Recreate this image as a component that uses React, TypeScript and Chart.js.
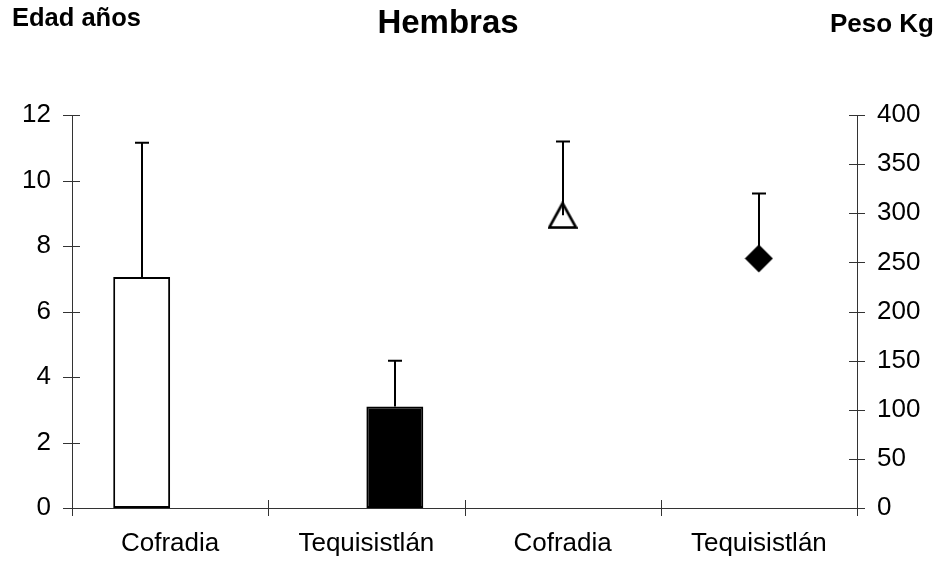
import React, { useEffect, useRef } from "react";
import { Chart, registerables } from "chart.js";

Chart.register(...registerables);

// Categories along the bottom axis
const categories = ["Cofradia", "Tequisistlán", "Cofradia", "Tequisistlán"];

// Age (years, left axis): mean and upper error
const edadCofradia = [7.05, null, null, null];
const edadTequisistlan = [null, 3.1, null, null];
const edadCofradiaError = [11.15, null, null, null];
const edadTequisistlanError = [null, 4.5, null, null];

// Weight (kg, right axis): mean and upper error
const pesoCofradia = [null, null, 298, null];
const pesoTequisistlan = [null, null, null, 254];
const pesoCofradiaError = [null, null, 373, null];
const pesoTequisistlanError = [null, null, null, 320];

// Axis tick settings
const edadTicks = { min: 0, max: 12, step: 2 };
const pesoTicks = { min: 0, max: 400, step: 50 };

const FONT = "'Liberation Sans', Arial, Helvetica, sans-serif";

function makeTriangle(): HTMLCanvasElement {
  const c = document.createElement("canvas");
  c.width = 30;
  c.height = 28;
  const ctx = c.getContext("2d")!;
  ctx.fillStyle = "#ffffff";
  ctx.strokeStyle = "#000000";
  ctx.lineWidth = 2.6;
  ctx.lineJoin = "miter";
  ctx.beginPath();
  ctx.moveTo(15, 2);
  ctx.lineTo(1.6, 26.4);
  ctx.lineTo(28.4, 26.4);
  ctx.closePath();
  ctx.fill();
  ctx.stroke();
  return c;
}

function makeDiamond(): HTMLCanvasElement {
  const c = document.createElement("canvas");
  c.width = 29;
  c.height = 29;
  const ctx = c.getContext("2d")!;
  ctx.fillStyle = "#000000";
  ctx.beginPath();
  ctx.moveTo(14.5, 0.5);
  ctx.lineTo(28.5, 14.5);
  ctx.lineTo(14.5, 28.5);
  ctx.lineTo(0.5, 14.5);
  ctx.closePath();
  ctx.fill();
  return c;
}

// Upper error bars with a short cap, drawn from each mark up to its error value
const errorBars = {
  id: "errorBars",
  afterDatasetsDraw(chart: any) {
    const ctx = chart.ctx;
    ctx.save();
    ctx.strokeStyle = "#000000";
    ctx.lineWidth = 2;
    chart.data.datasets.forEach((ds: any, i: number) => {
      if (!ds.errorTo) return;
      const meta = chart.getDatasetMeta(i);
      const scale = chart.scales[ds.yAxisID];
      meta.data.forEach((el: any, j: number) => {
        const top = ds.errorTo[j];
        if (top == null || ds.data[j] == null) return;
        const x = Math.round(el.x);
        const y0 = el.y;
        const y1 = scale.getPixelForValue(top);
        ctx.beginPath();
        ctx.moveTo(x, y0);
        ctx.lineTo(x, y1);
        ctx.moveTo(x - 7, y1);
        ctx.lineTo(x + 7, y1);
        ctx.stroke();
      });
    });
    ctx.restore();
  },
};

// Tick marks that cross each axis line
const crossTicks = {
  id: "crossTicks",
  afterDraw(chart: any) {
    const ctx = chart.ctx;
    const { left, right, bottom } = chart.chartArea;
    const half = 8;
    ctx.save();
    ctx.strokeStyle = "#333333";
    ctx.lineWidth = 1;
    ctx.beginPath();
    const y = chart.scales.y;
    y.ticks.forEach((t: any) => {
      const py = Math.round(y.getPixelForValue(t.value)) + 0.5;
      ctx.moveTo(left - half - 1, py);
      ctx.lineTo(left + half, py);
    });
    const y2 = chart.scales.y2;
    y2.ticks.forEach((t: any) => {
      const py = Math.round(y2.getPixelForValue(t.value)) + 0.5;
      ctx.moveTo(right - half, py);
      ctx.lineTo(right + half, py);
    });
    const x = chart.scales.x;
    const n = categories.length;
    const w = (x.right - x.left) / n;
    for (let i = 0; i <= n; i++) {
      const px = Math.round(x.left + i * w) + 0.5;
      ctx.moveTo(px, bottom - half);
      ctx.lineTo(px, bottom + half);
    }
    ctx.stroke();
    ctx.restore();
  },
};

export default function App() {
  const ref = useRef<HTMLCanvasElement | null>(null);

  useEffect(() => {
    if (!ref.current) return;
    const tickFont = { family: FONT, size: 26 };
    const chart = new Chart(ref.current, {
      type: "bar",
      data: {
        labels: categories,
        datasets: [
          {
            type: "bar",
            label: "Edad Cofradia",
            data: edadCofradia,
            yAxisID: "y",
            backgroundColor: "#ffffff",
            borderColor: "#000000",
            borderWidth: 2,
            borderSkipped: false,
            errorTo: edadCofradiaError,
          } as any,
          {
            type: "bar",
            label: "Edad Tequisistlán",
            data: edadTequisistlan,
            yAxisID: "y",
            backgroundColor: "#000000",
            borderColor: "#000000",
            borderWidth: 2,
            borderSkipped: false,
            errorTo: edadTequisistlanError,
          } as any,
          {
            type: "line",
            label: "Peso Cofradia",
            data: pesoCofradia,
            yAxisID: "y2",
            showLine: false,
            pointStyle: makeTriangle(),
            pointRadius: 10,
            errorTo: pesoCofradiaError,
          } as any,
          {
            type: "line",
            label: "Peso Tequisistlán",
            data: pesoTequisistlan,
            yAxisID: "y2",
            showLine: false,
            pointStyle: makeDiamond(),
            pointRadius: 10,
            errorTo: pesoTequisistlanError,
          } as any,
        ],
      },
      options: {
        responsive: false,
        animation: false,
        events: [],
        layout: { padding: { top: 115, left: 0, right: 0, bottom: 0 } },
        datasets: {
          bar: { categoryPercentage: 0.58, barPercentage: 1.0 },
        },
        plugins: {
          legend: { display: false },
          title: { display: false },
          tooltip: { enabled: false },
        },
        scales: {
          x: {
            type: "category",
            offset: true,
            grid: { display: false, drawTicks: false, tickLength: 0 },
            border: { display: true, color: "#333333", width: 1 },
            ticks: { color: "#000000", font: tickFont, padding: 20, maxRotation: 0, autoSkip: false },
            afterFit: (s: any) => {
              s.height = 55;
            },
          },
          y: {
            type: "linear",
            position: "left",
            min: edadTicks.min,
            max: edadTicks.max,
            grid: { display: false, drawTicks: false, tickLength: 0 },
            border: { display: true, color: "#333333", width: 1 },
            ticks: { stepSize: edadTicks.step, color: "#000000", font: tickFont, padding: 21 },
            afterFit: (s: any) => {
              s.width = 72;
            },
          },
          y2: {
            type: "linear",
            position: "right",
            min: pesoTicks.min,
            max: pesoTicks.max,
            grid: { display: false, drawTicks: false, tickLength: 0 },
            border: { display: true, color: "#333333", width: 1 },
            ticks: { stepSize: pesoTicks.step, color: "#000000", font: tickFont, padding: 20 },
            afterFit: (s: any) => {
              s.width = 83;
            },
          },
        },
      } as any,
      plugins: [errorBars, crossTicks],
    });
    return () => chart.destroy();
  }, []);

  const head: React.CSSProperties = {
    position: "absolute",
    fontFamily: FONT,
    fontWeight: "bold",
    lineHeight: "1",
    whiteSpace: "nowrap",
    color: "#000000",
  };

  return (
    <div
      style={{
        position: "fixed",
        left: 0,
        top: 0,
        width: 940,
        height: 563,
        background: "#ffffff",
        overflow: "hidden",
      }}
    >
      <canvas ref={ref} width={940} height={563} style={{ position: "absolute", left: 0, top: 0 }} />
      <div style={{ ...head, left: 12, top: 5, fontSize: 25.5 }}>Edad años</div>
      <div style={{ ...head, left: 348, width: 200, top: 5, fontSize: 33, textAlign: "center" }}>Hembras</div>
      <div style={{ ...head, right: 6, top: 9.5, fontSize: 26 }}>Peso Kg</div>
    </div>
  );
}
